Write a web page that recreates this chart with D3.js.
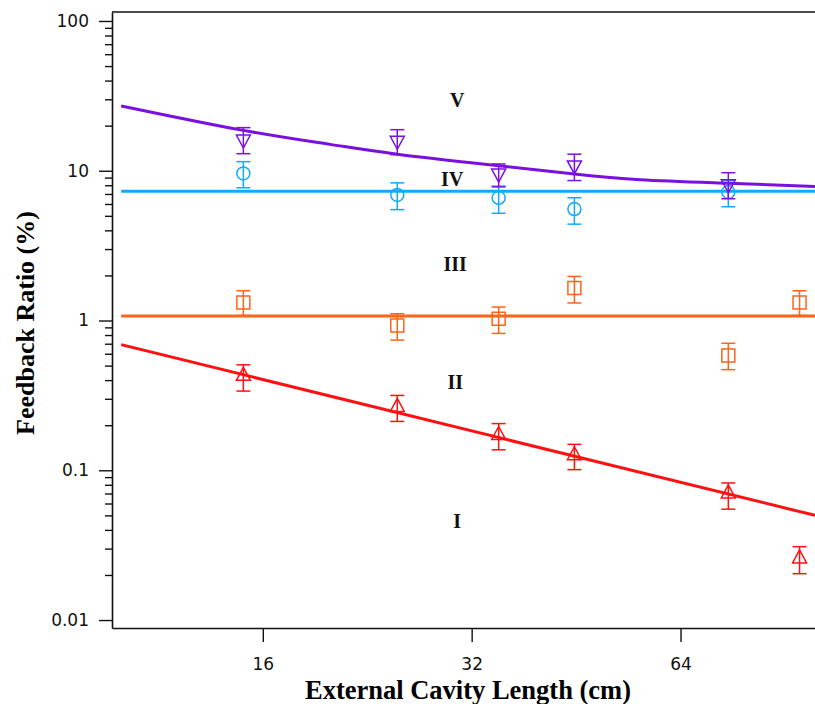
<!DOCTYPE html>
<html><head><meta charset="utf-8">
<script src="https://cdn.jsdelivr.net/npm/d3@7"></script>
<style>body{margin:0;background:#fff}</style>
</head><body><svg id="c" width="815" height="704"></svg>
<script>
// ---- data (cavity length in cm, feedback ratio in %) ----
const lengthsV = [15, 25, 35, 45, 75];
const ratioV   = [15.8, 15.5, 9.35, 10.6, 7.94];
const errHiV   = [19.4, 18.8, 11.1, 12.9, 9.7];
const errLoV   = [13.0, 12.8, 7.8, 8.6, 6.5];

const lengthsIV = [15, 25, 35, 45, 75];
const ratioIV   = [9.6, 6.9, 6.6, 5.55, 7.2];
const errHiIV   = [11.5, 8.3, 7.9, 6.6, 8.6];
const errLoIV   = [7.7, 5.5, 5.2, 4.4, 5.75];

const lengthsIII = [15, 25, 35, 45, 75, 95];
const ratioIII   = [1.32, 0.926, 1.026, 1.65, 0.585, 1.32];
const errHiIII   = [1.58, 1.11, 1.23, 1.97, 0.705, 1.58];
const errLoIII   = [1.08, 0.74, 0.82, 1.31, 0.47, 1.08];

const lengthsI = [15, 25, 35, 45, 75, 95];
const ratioI   = [0.437, 0.271, 0.176, 0.129, 0.0717, 0.0264];
const errHiI   = [0.506, 0.316, 0.205, 0.149, 0.0823, 0.0309];
const errLoI   = [0.338, 0.212, 0.137, 0.101, 0.055, 0.0204];

// fitted curves
const fitLenV   = [10, 15, 20, 25, 35, 45, 56, 75, 100];
const fitRatioV = [27.1, 18.6, 15.0, 12.9, 10.8, 9.5, 8.7, 8.25, 7.85];
const fitLenIV = [10, 100];   const fitRatioIV = [7.3, 7.3];
const fitLenIII = [10, 100];  const fitRatioIII = [1.07, 1.07];
const fitLenI = [10, 100];    const fitRatioI = [0.69, 0.050];

// region labels (position in data coords)
const regionNames = ["V", "IV", "III", "II", "I"];
const regionLen   = [30.5, 30.0, 30.3, 30.3, 30.5];
const regionRatio = [29.8, 8.8, 2.4, 0.39, 0.046];

const xTicks = [16, 32, 64];
const yTicks = [0.01, 0.1, 1, 10, 100];
const yTickLabels = ["0.01", "0.1", "1", "10", "100"];

// ---- drawing ----
const svg = d3.select("#c");
const x = d3.scaleLog().base(2).domain([9.7, 100]).range([112, 815]);
const y = d3.scaleLog().domain([0.00885, 114.8]).range([628, 12]);

const colV = "#7a10e0", colIV = "#10aaff", colIII = "#ff6418", colI = "#ff1010";

// top frame line
svg.append("line").attr("x1", x.range()[0]).attr("x2", x.range()[1])
  .attr("y1", y.range()[1]).attr("y2", y.range()[1])
  .attr("stroke", "#111").attr("stroke-width", 1.6);

// minor y ticks
const minor = [];
for (let e = -2; e < 2; e++) for (let m = 2; m <= 9; m++) minor.push(m * Math.pow(10, e));
svg.append("g").attr("transform", `translate(${x.range()[0]},0)`)
  .call(d3.axisLeft(y).tickValues(minor).tickSize(7).tickFormat("").tickSizeOuter(0))
  .call(g => g.select(".domain").remove())
  .call(g => g.selectAll("line").attr("stroke", "#111").attr("stroke-width", 1.4));

// major y axis
const yAx = svg.append("g").attr("transform", `translate(${x.range()[0]},0)`)
  .call(d3.axisLeft(y).tickValues(yTicks).tickSize(13).tickPadding(10).tickSizeOuter(0)
    .tickFormat((d, i) => yTickLabels[i]));
yAx.select(".domain").attr("stroke", "#111").attr("stroke-width", 1.6);
yAx.selectAll("line").attr("stroke", "#111").attr("stroke-width", 1.4);
yAx.selectAll("text").attr("font-family", "DejaVu Sans").attr("font-size", 17).attr("fill", "#111");

// x axis
const xAx = svg.append("g").attr("transform", `translate(0,${y.range()[0]})`)
  .call(d3.axisBottom(x).tickValues(xTicks).tickSize(14).tickPadding(16).tickSizeOuter(0)
    .tickFormat(d3.format("d")));
xAx.select(".domain").attr("stroke", "#111").attr("stroke-width", 1.6);
xAx.selectAll("line").attr("stroke", "#111").attr("stroke-width", 1.4);
xAx.selectAll("text").attr("font-family", "DejaVu Sans").attr("font-size", 17).attr("fill", "#111");

// axis titles
svg.append("text").attr("x", 468).attr("y", 699).attr("text-anchor", "middle")
  .attr("font-family", "Liberation Serif").attr("font-weight", "bold").attr("font-size", 26.5)
  .text("External Cavity Length (cm)");
svg.append("text").attr("transform", "translate(34,323) rotate(-90)").attr("text-anchor", "middle")
  .attr("font-family", "Liberation Serif").attr("font-weight", "bold").attr("font-size", 26)
  .text("Feedback Ratio (%)");

// fit lines
const line = d3.line().x(d => x(d[0])).y(d => y(d[1]));
const lineCurve = d3.line().x(d => x(d[0])).y(d => y(d[1])).curve(d3.curveNatural);
function fit(lens, vals, col, gen) {
  svg.append("path").datum(lens.map((l, i) => [l, vals[i]]))
    .attr("d", gen).attr("fill", "none").attr("stroke", col).attr("stroke-width", 3);
}
fit(fitLenIV, fitRatioIV, colIV, line);
fit(fitLenIII, fitRatioIII, colIII, line);
fit(fitLenI, fitRatioI, colI, line);
fit(fitLenV, fitRatioV, colV, lineCurve);

// region labels with white background
regionNames.forEach((n, i) => {
  const t = svg.append("text").attr("x", x(regionLen[i])).attr("y", y(regionRatio[i]))
    .attr("dy", "0.35em").attr("text-anchor", "middle")
    .attr("font-family", "Liberation Serif").attr("font-weight", "bold").attr("font-size", 20)
    .attr("fill", "#111").text(n);
  const b = t.node().getBBox();
  svg.insert("rect", () => t.node()).attr("x", b.x - 2).attr("y", b.y + 1)
    .attr("width", b.width + 4).attr("height", b.height - 2).attr("fill", "#fff");
});

// markers + error bars
const shapes = {
  down: "M-7,-6L7,-6L0,7Z",
  up: "M-7,6L7,6L0,-7Z",
  square: "M-6.5,-6.5H6.5V6.5H-6.5Z"
};
function series(lens, vals, hi, lo, col, shape) {
  const g = svg.append("g").attr("stroke", col).attr("stroke-width", 1.5).attr("fill", "none");
  lens.forEach((l, i) => {
    const cx = x(l);
    g.append("line").attr("x1", cx).attr("x2", cx).attr("y1", y(hi[i])).attr("y2", y(lo[i]));
    g.append("line").attr("x1", cx - 7).attr("x2", cx + 7).attr("y1", y(hi[i])).attr("y2", y(hi[i]));
    g.append("line").attr("x1", cx - 7).attr("x2", cx + 7).attr("y1", y(lo[i])).attr("y2", y(lo[i]));
    if (shape === "circle") {
      g.append("circle").attr("cx", cx).attr("cy", y(vals[i])).attr("r", 6.5);
    } else {
      g.append("path").attr("transform", `translate(${cx},${y(vals[i])})`).attr("d", shapes[shape]);
    }
  });
}
series(lengthsIII, ratioIII, errHiIII, errLoIII, colIII, "square");
series(lengthsI, ratioI, errHiI, errLoI, colI, "up");
series(lengthsIV, ratioIV, errHiIV, errLoIV, colIV, "circle");
series(lengthsV, ratioV, errHiV, errLoV, colV, "down");
</script>
</body></html>
